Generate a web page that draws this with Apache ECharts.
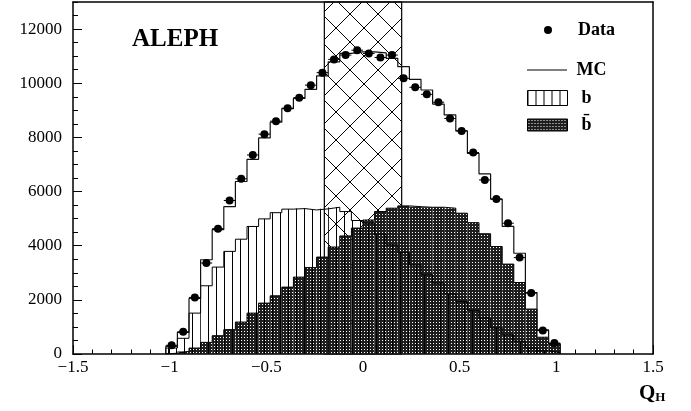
<!DOCTYPE html>
<html><head><meta charset="utf-8">
<script src="https://cdn.jsdelivr.net/npm/echarts/dist/echarts.min.js"></script>
<style>html,body{margin:0;padding:0;background:#fff}#c{width:691px;height:411px}</style>
</head><body><div id="c"></div>
<script>
// ---- data ----
const binCenters = [-0.99,-0.93,-0.87,-0.81,-0.75,-0.69,-0.63,-0.57,-0.51,-0.45,-0.39,-0.33,-0.27,-0.21,-0.15,-0.09,-0.03,
                     0.03, 0.09, 0.15, 0.21, 0.27, 0.33, 0.39, 0.45, 0.51, 0.57, 0.63, 0.69, 0.75, 0.81, 0.87, 0.93, 0.99];
const binWidth = 0.06;
const dataCounts = [320,820,2090,3360,4630,5670,6470,7350,8120,8600,9080,9465,9930,10390,10880,11040,11220,
                    11100,10950,11040,10180,9850,9590,9300,8700,8240,7440,6430,5720,4830,3560,2250,865,405];
const mcCounts   = [280,800,2050,3480,4590,5440,6370,7190,7980,8560,9060,9440,9775,10270,10790,11100,11160,
                    11160,11120,10920,10610,10140,9750,9230,8830,8240,7410,6650,5720,4710,3720,2270,890,380];
const bCounts    = [220,580,1510,2520,3210,3790,4240,4710,4990,5220,5350,5370,5320,5360,5420,5260,4930,
                    4830,4430,4030,3750,3290,2930,2620,2220,1940,1610,1330,960,710,470,220,120,50];
const bbarCounts = [30,96,220,430,675,900,1180,1510,1880,2150,2470,2840,3190,3580,3950,4360,4650,
                    4950,5260,5385,5470,5440,5420,5420,5385,5200,4850,4440,3970,3320,2640,1660,620,370];
const bandRange = [-0.2, 0.2];
const xTickValues = [-1.5,-1,-0.5,0,0.5,1,1.5];
const xTickLabels = ['\u22121.5','\u22121','\u22120.5','0','0.5','1','1.5'];
const yTickValues = [0,2000,4000,6000,8000,10000,12000];
const yTickLabels = ['0','2000','4000','6000','8000','10000','12000'];

// ---- patterns ----
function makeCanvas(w,h,draw){const c=document.createElement('canvas');c.width=w;c.height=h;draw(c.getContext('2d'));return c;}
const stipple = makeCanvas(3,3,ctx=>{ctx.fillStyle='#1e1e1e';ctx.fillRect(0,0,3,3);ctx.fillStyle='#ffffff';ctx.fillRect(1,1,1,1);});
const vlines = makeCanvas(8,1,ctx=>{ctx.clearRect(0,0,8,1);ctx.fillStyle='#000';ctx.fillRect(0,0,1,1);});
const cross = makeCanvas(28,28,ctx=>{ctx.clearRect(0,0,28,28);ctx.strokeStyle='#000';ctx.lineWidth=1;
  ctx.beginPath();ctx.moveTo(0,0);ctx.lineTo(28,28);ctx.moveTo(28,0);ctx.lineTo(0,28);ctx.stroke();});
const stipplePat = {image: stipple, repeat: 'repeat'};
const vlinePat = {image: vlines, repeat: 'repeat'};
const crossPat = {image: cross, repeat: 'repeat'};

const serif = 'Liberation Serif';
function stepPoints(vals){
  const pts=[[binCenters[0]-binWidth/2,0]];
  vals.forEach((v,i)=>{pts.push([binCenters[i]-binWidth/2,v],[binCenters[i]+binWidth/2,v]);});
  pts.push([binCenters[binCenters.length-1]+binWidth/2,0]);
  return pts;
}
function histRender(fill){
  return function(params, api){
    const c=api.value(0), v=api.value(1);
    const p1=api.coord([c-binWidth/2,v]), p2=api.coord([c+binWidth/2,0]);
    return {type:'rect', shape:{x:p1[0],y:p1[1],width:p2[0]-p1[0],height:p2[1]-p1[1]}, style:{fill:fill, stroke:null}};
  };
}
const pairs = vals => vals.map((v,i)=>[binCenters[i],v]);

const chart = echarts.init(document.getElementById('c'), null, {renderer:'canvas'});
const legendBase = {orient:'horizontal', left:527, padding:0, itemWidth:40, itemGap:0, selectedMode:false,
  textStyle:{fontFamily:serif, fontWeight:'bold', fontSize:18, color:'#000', lineHeight:18}};
chart.setOption({
  animation:false,
  backgroundColor:'#fff',
  title:[
    {text:'ALEPH', left:132, top:27, padding:0, textStyle:{fontFamily:serif, fontWeight:'bold', fontSize:25, color:'#000'}},
    {text:'{q|Q}{h|H}', left:639, top:383, padding:0, textStyle:{rich:{
      q:{fontFamily:serif, fontWeight:'bold', fontSize:21, color:'#000'},
      h:{fontFamily:serif, fontWeight:'bold', fontSize:13, color:'#000', padding:[8,0,0,0]}}}}
  ],
  legend:[
    Object.assign({}, legendBase, {left:544, top:21, itemWidth:8, itemHeight:8, formatter:'{s|}{name}',
      textStyle:Object.assign({}, legendBase.textStyle, {rich:{s:{width:21}}}),
      data:[{name:'Data', icon:'circle', itemStyle:{color:'#000'}}]}),
    Object.assign({}, legendBase, {top:61, itemHeight:1, formatter:' {name}', data:[{name:'MC', icon:'rect', itemStyle:{color:'#000'}}]}),
    Object.assign({}, legendBase, {top:89, itemHeight:15, formatter:'  {name}', data:[{name:'b', icon:'rect', itemStyle:{color:vlinePat, borderColor:'#000', borderWidth:1}}]}),
    Object.assign({}, legendBase, {top:116, itemHeight:12, formatter:'  {name}', data:[{name:'b\u0304', icon:'rect', itemStyle:{color:stipplePat, borderColor:'#000', borderWidth:1}}]})
  ],
  grid:{left:73, right:38, top:2, bottom:57, containLabel:false},
  xAxis:[
    {type:'value', min:-1.5, max:1.5, interval:0.5, position:'bottom',
     axisLine:{onZero:false, lineStyle:{color:'#000', width:1.5}},
     axisTick:{inside:true, length:9, lineStyle:{color:'#000'}},
     minorTick:{show:true, splitNumber:5, length:4.5, lineStyle:{color:'#000'}},
     splitLine:{show:false},
     axisLabel:{margin:5, fontFamily:serif, fontSize:17, color:'#000',
       formatter:v=>{const i=xTickValues.findIndex(t=>Math.abs(t-v)<1e-9);return i>=0?xTickLabels[i]:'';}}},
    {type:'value', min:-1.5, max:1.5, position:'top', axisLine:{onZero:false, lineStyle:{color:'#000', width:1.5}},
     axisTick:{show:false}, axisLabel:{show:false}, splitLine:{show:false}}
  ],
  yAxis:[
    {type:'value', min:0, max:13000, interval:500, position:'left',
     axisLine:{onZero:false, lineStyle:{color:'#000', width:1.5}},
     axisTick:{inside:true, length:5, lineStyle:{color:'#000'}},
     axisLabel:{show:false}, splitLine:{show:false}},
    {type:'value', min:0, max:13000, interval:2000, position:'left',
     axisLine:{show:false, onZero:false},
     axisTick:{inside:true, length:9, lineStyle:{color:'#000'}},
     axisLabel:{margin:11, showMaxLabel:false, fontFamily:serif, fontSize:17, color:'#000',
       formatter:v=>{const i=yTickValues.indexOf(v);return i>=0?yTickLabels[i]:'';}},
     splitLine:{show:false}},
    {type:'value', min:0, max:13000, position:'right', axisLine:{onZero:false, lineStyle:{color:'#000', width:1.5}},
     axisTick:{show:false}, axisLabel:{show:false}, splitLine:{show:false}}
  ],
  series:[
    {name:'b\u0304', type:'custom', z:2, xAxisIndex:0, yAxisIndex:0, renderItem:histRender(stipplePat),
     encode:{x:0,y:1}, data:pairs(bbarCounts), itemStyle:{color:'#222'},
     markArea:{silent:true, itemStyle:{color:crossPat, borderColor:'#000', borderWidth:1.2},
       data:[[{xAxis:bandRange[0]},{xAxis:bandRange[1]}]]}},
    {name:'b', type:'custom', z:3, xAxisIndex:0, yAxisIndex:0, renderItem:histRender(vlinePat),
     encode:{x:0,y:1}, data:pairs(bCounts), itemStyle:{color:'#fff'}},
    {name:'bbar outline', type:'line', z:4, data:stepPoints(bbarCounts), symbol:'none', lineStyle:{color:'#000', width:1}},
    {name:'b outline', type:'line', z:4, data:stepPoints(bCounts), symbol:'none', lineStyle:{color:'#000', width:1}},
    {name:'MC', type:'line', z:5, data:stepPoints(mcCounts), symbol:'none', color:'#000', lineStyle:{color:'#111', width:1.2}},
    {name:'Data err', type:'custom', z:6, encode:{x:0,y:1}, data:pairs(dataCounts),
     renderItem:(params,api)=>{const c=api.value(0),v=api.value(1);const a=api.coord([c-binWidth/2,v]),b=api.coord([c+binWidth/2,v]);
       return {type:'line', shape:{x1:a[0],y1:a[1],x2:b[0],y2:b[1]}, style:{stroke:'#000', lineWidth:1}};}},
    {name:'Data', type:'scatter', z:7, data:pairs(dataCounts), symbol:'circle', symbolSize:8, itemStyle:{color:'#000', opacity:1}}
  ]
});
</script></body></html>
